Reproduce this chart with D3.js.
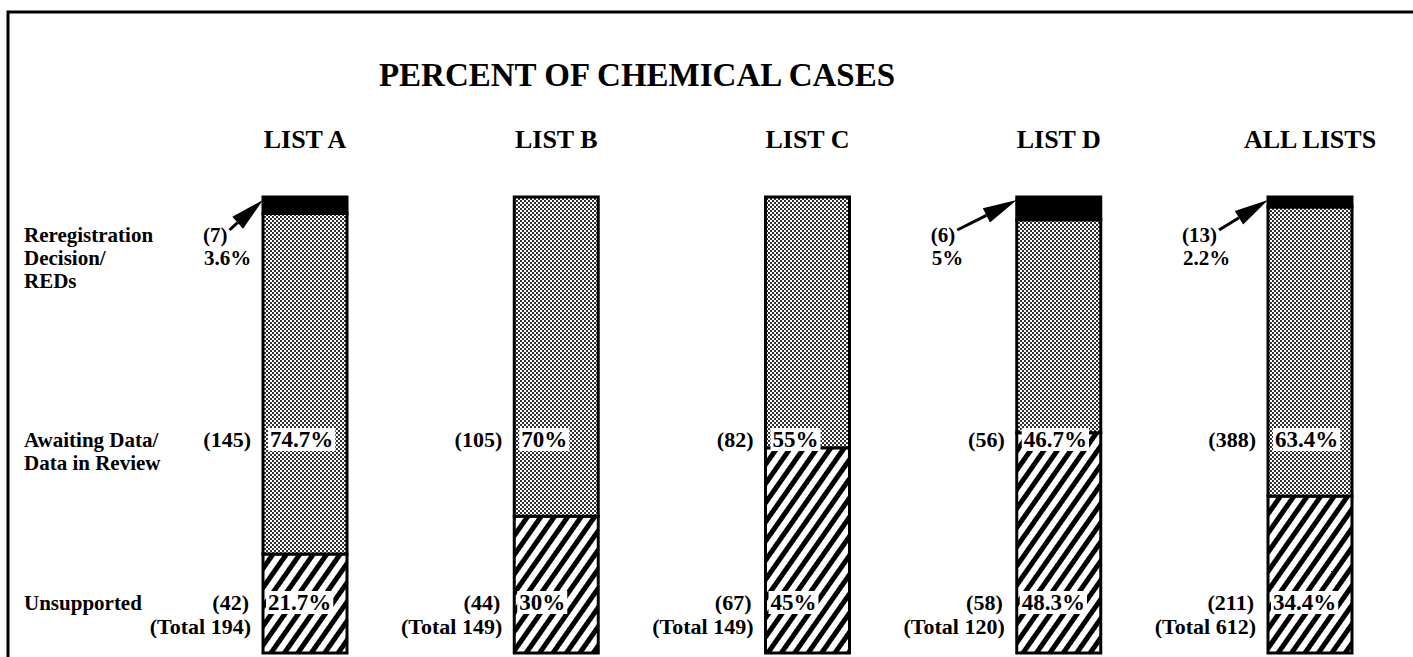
<!DOCTYPE html>
<html>
<head>
<meta charset="utf-8">
<script src="https://cdn.jsdelivr.net/npm/d3@7"></script>
<style>
body{margin:0;background:#fff;}
text{font-family:"Liberation Serif","Times New Roman",serif;font-weight:bold;fill:#000;}
</style>
</head>
<body>
<svg id="chart" width="1413" height="657"></svg>
<script>
// values
let lists = ['LIST A', 'LIST B', 'LIST C', 'LIST D', 'ALL LISTS'];
let redCounts = [7, 0, 0, 6, 13];
let redPct = [3.6, 0, 0, 5, 2.2];
let awaitCounts = [145, 105, 82, 56, 388];
let awaitPct = [74.7, 70, 55, 46.7, 63.4];
let unsupCounts = [42, 44, 67, 58, 211];
let unsupPct = [21.7, 30, 45, 48.3, 34.4];
let totals = [194, 149, 149, 120, 612];
let rowLabels = [['Reregistration', 'Decision/', 'REDs'], ['Awaiting Data/', 'Data in Review'], ['Unsupported']];

let svg = d3.select('#chart');
let W = 1413, H = 657;
let barW = 84;
let lh = 23;

let defs = svg.append('defs');
let stip = defs.append('pattern').attr('id', 'stipple')
    .attr('patternUnits', 'userSpaceOnUse').attr('width', 4).attr('height', 4);
stip.append('rect').attr('width', 4).attr('height', 4).attr('fill', '#fff');
stip.append('rect').attr('width', 2).attr('height', 2).attr('fill', '#333');
stip.append('rect').attr('x', 2).attr('y', 2).attr('width', 2).attr('height', 2).attr('fill', '#333');
let hatch = defs.append('pattern').attr('id', 'hatch')
    .attr('patternUnits', 'userSpaceOnUse').attr('width', 11).attr('height', 11)
    .attr('patternTransform', 'rotate(35)');
hatch.append('rect').attr('width', 11).attr('height', 11).attr('fill', '#fff');
hatch.append('rect').attr('width', 5).attr('height', 11).attr('fill', '#000');

// frame
svg.append('path').attr('d', `M8,${H} L8,12 L${W},12`)
    .attr('fill', 'none').attr('stroke', '#000').attr('stroke-width', 3);

svg.append('text').attr('x', 637).attr('y', 86).attr('text-anchor', 'middle')
    .style('font-size', '33px').text('PERCENT OF CHEMICAL CASES');

let x = d3.scalePoint().domain(lists).range([305, 1310]);
let y = d3.scaleLinear().domain([0, 100]).range([653, 197]);

svg.selectAll('.head').data(lists).enter().append('text')
    .attr('x', d => x(d)).attr('y', 148).attr('text-anchor', 'middle')
    .style('font-size', '26px').text(d => d);

let rows = lists.map((d, i) => ({list: d, unsup: unsupPct[i], await: awaitPct[i], red: redPct[i]}));
let stack = d3.stack().keys(['unsup', 'await', 'red'])(rows);
let fills = {unsup: 'url(#hatch)', await: 'url(#stipple)', red: '#000'};

stack.forEach(layer => {
    svg.append('g').selectAll('rect').data(layer).enter().append('rect')
        .attr('x', d => x(d.data.list) - barW / 2)
        .attr('width', barW)
        .attr('y', d => y(d[1]))
        .attr('height', d => y(d[0]) - y(d[1]))
        .attr('fill', fills[layer.key])
        .attr('stroke', '#000').attr('stroke-width', 3);
});

// row labels on the left
let rowY = [242, 447, 610];
rowLabels.forEach((lines, r) => {
    lines.forEach((t, k) => {
        svg.append('text').attr('x', 24).attr('y', rowY[r] + k * lh)
            .style('font-size', '21px').text(t);
    });
});

let fmt = v => v + '%';

function boxLabel(cx, cy, str){
    let g = svg.append('g');
    let t = g.append('text').attr('x', cx).attr('y', cy)
        .style('font-size', '23px').text(str);
    let b = t.node().getBBox();
    g.insert('rect', 'text').attr('x', b.x - 2).attr('y', b.y + 1)
        .attr('width', b.width + 4).attr('height', b.height - 2).attr('fill', '#fff');
}

lists.forEach((d, i) => {
    let left = x(d) - barW / 2;
    // counts to the left of the bar
    svg.append('text').attr('x', left - 12).attr('y', rowY[1]).attr('text-anchor', 'end')
        .style('font-size', '22px').text(`(${awaitCounts[i]})`);
    svg.append('text').attr('x', left - 14).attr('y', rowY[2]).attr('text-anchor', 'end')
        .style('font-size', '22px').text(`(${unsupCounts[i]})`);
    svg.append('text').attr('x', left - 12).attr('y', rowY[2] + 24).attr('text-anchor', 'end')
        .style('font-size', '22px').text(`(Total ${totals[i]})`);
    boxLabel(left + 7, rowY[1], fmt(awaitPct[i]));
    boxLabel(left + 5, rowY[2], fmt(unsupPct[i]));

    // small top segment with an arrow
    if (redCounts[i] > 0) {
        let lx = left - (i === 0 ? 60 : 86);
        let ct = svg.append('text').attr('x', lx).attr('y', rowY[0])
            .style('font-size', '21px').text(`(${redCounts[i]})`);
        svg.append('text').attr('x', lx + 1).attr('y', rowY[0] + lh)
            .style('font-size', '21px').text(fmt(redPct[i]));
        let b = ct.node().getBBox();
        let sx = b.x + b.width + 2, sy = rowY[0] - 12;
        let tx = left, ty = y(100) + 3;
        let ang = Math.atan2(ty - sy, tx - sx);
        let hl = 34, hw = 8;
        let bx = tx - hl * Math.cos(ang), by = ty - hl * Math.sin(ang);
        let px = -Math.sin(ang) * hw, py = Math.cos(ang) * hw;
        svg.append('line').attr('x1', sx).attr('y1', sy).attr('x2', bx).attr('y2', by)
            .attr('stroke', '#000').attr('stroke-width', 3);
        svg.append('path')
            .attr('d', `M${tx},${ty} L${bx + px},${by + py} L${bx - px},${by - py} Z`)
            .attr('fill', '#000');
    }
});
</script>
</body>
</html>
